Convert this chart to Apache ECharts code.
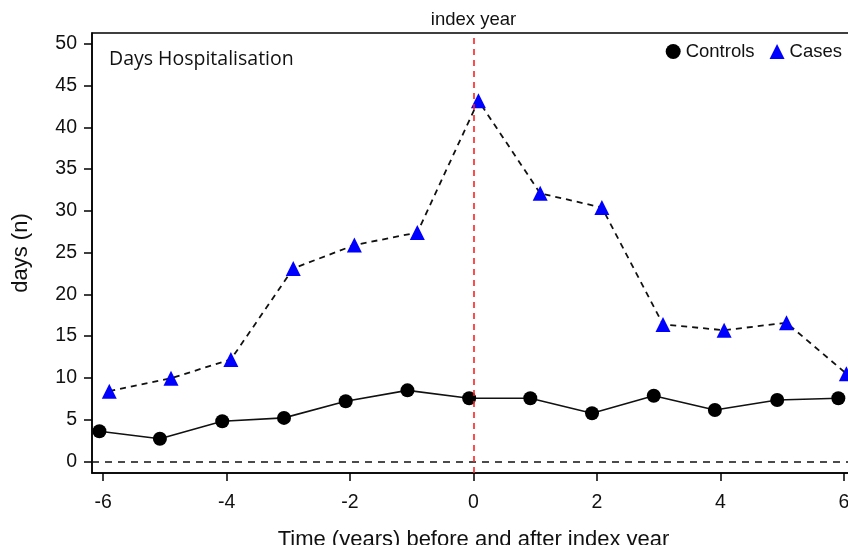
<!DOCTYPE html>
<html>
<head>
<meta charset="utf-8">
<script src="https://cdn.jsdelivr.net/npm/echarts@6/dist/echarts.min.js"></script>
<style>html,body{margin:0;padding:0;background:#fff;}#chart{width:848px;height:545px;}</style>
</head>
<body>
<div id="chart"></div>
<script>
var controlsTime = [-6.06,-5.08,-4.07,-3.07,-2.07,-1.07,-0.07,0.92,1.92,2.92,3.91,4.92,5.91];
var controlsDays = [3.6,2.7,4.8,5.2,7.2,8.5,7.55,7.55,5.75,7.85,6.15,7.35,7.55];
var casesTime = [-5.9,-4.9,-3.93,-2.92,-1.93,-0.91,0.08,1.08,2.08,3.07,4.06,5.07,6.04];
var casesDays = [8.4,9.95,12.2,23.1,25.9,27.4,43.2,32.1,30.4,16.4,15.7,16.6,10.5];
var xTicks = [-6,-4,-2,0,2,4,6];
var yTicks = [0,5,10,15,20,25,30,35,40,45,50];

function pairs(xs, ys){ return xs.map(function(x,i){ return [x, ys[i]]; }); }

var chart = echarts.init(document.getElementById('chart'), null, {renderer:'canvas'});
var axisFont = 'Liberation Sans, Arial, sans-serif';
chart.setOption({
  animation:false,
  backgroundColor:'#fff',
  grid:{left:92, top:33, width:763, bottom:72, show:true, borderColor:'#000', borderWidth:1.5, outerBoundsMode:'none'},
  title:{text:'Days Hospitalisation', left:104, top:44, textStyle:{fontFamily:'Open Sans, Lato, sans-serif', fontWeight:'normal', fontSize:19.5, color:'#111'}},
  legend:{
    right:1, top:37, itemWidth:15, itemHeight:15, itemGap:15,
    textStyle:{fontFamily:axisFont, fontSize:18.5, color:'#111'},
    data:[{name:'Controls', icon:'circle'},{name:'Cases', icon:'triangle'}]
  },
  xAxis:{
    type:'value', min:-6.18, max:6.18,
    axisLine:{show:true, onZero:false, lineStyle:{color:'#000', width:1.5}},
    axisTick:{show:true, inside:false, length:8, customValues:xTicks, lineStyle:{color:'#000', width:1.5}},
    axisLabel:{customValues:xTicks, margin:20, fontFamily:axisFont, fontSize:19.5, color:'#111'},
    splitLine:{show:false},
    name:'Time (years) before and after index year', nameLocation:'middle', nameGap:56,
    nameTextStyle:{fontFamily:axisFont, fontSize:22, color:'#111'}
  },
  yAxis:{
    type:'value', min:-1.4, max:51.3,
    axisLine:{show:true, onZero:false, lineStyle:{color:'#000', width:1.5}},
    axisTick:{show:true, inside:false, length:8, customValues:yTicks, lineStyle:{color:'#000', width:1.5}},
    axisLabel:{customValues:yTicks, margin:15, fontFamily:axisFont, fontSize:19.5, color:'#111'},
    splitLine:{show:false},
    name:'days (n)', nameLocation:'middle', nameGap:60, nameRotate:90,
    nameTextStyle:{fontFamily:axisFont, fontSize:22, color:'#111'}
  },
  series:[
    {
      name:'Controls', type:'line', data:pairs(controlsTime, controlsDays),
      symbol:'circle', symbolSize:14,
      itemStyle:{color:'#000'},
      lineStyle:{color:'#111', width:1.6, type:'solid'},
      z:3,
      markLine:{
        silent:true, symbol:['none','none'],
        data:[{yAxis:0}],
        lineStyle:{color:'#111', type:[7,6], width:1.6},
        label:{show:false}
      }
    },
    {
      name:'Cases', type:'line', data:pairs(casesTime, casesDays),
      symbol:'triangle', symbolSize:15,
      itemStyle:{color:'#0000ff'},
      lineStyle:{color:'#111', width:1.8, type:[6,5]},
      z:4,
      markLine:{
        silent:true, symbol:['none','none'],
        data:[{xAxis:0}],
        lineStyle:{color:'#ff2020', type:[6,5], width:1.6},
        label:{show:true, position:'end', formatter:'index year', distance:4, fontFamily:axisFont, fontSize:18.5, color:'#111'}
      }
    }
  ]
});
</script>
</body>
</html>
